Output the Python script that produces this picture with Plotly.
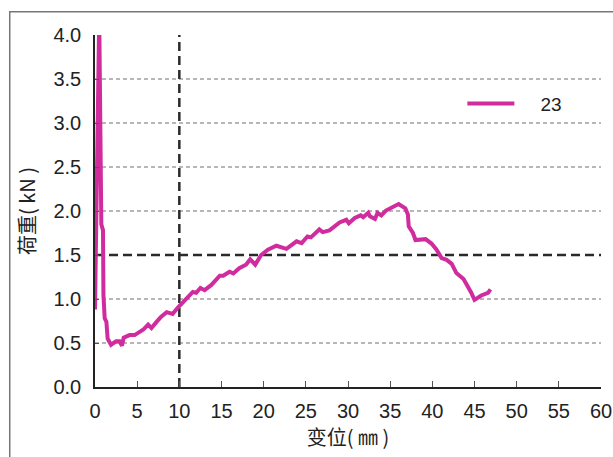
import plotly.graph_objects as go

# Series "23": displacement (mm) vs load (kN)
disp = [0.0, 0.5, 0.75, 0.95, 1.0, 1.15, 1.35, 1.5, 1.9, 2.5, 2.9, 3.2, 3.4, 4.1, 4.7, 5.1,
        5.7, 6.3, 6.7, 7.3, 7.85, 8.5, 9.2, 9.8, 10.3, 10.8, 11.6, 12.0, 12.5, 13.0, 13.8,
        14.8, 15.2, 15.95, 16.4, 17.1, 17.9, 18.4, 19.0, 19.7, 20.5, 21.5, 22.7, 23.9,
        24.5, 25.2, 25.6, 26.6, 27.0, 27.8, 29.0, 29.8, 30.1, 30.8, 31.5, 31.8, 32.4,
        32.6, 33.2, 33.5, 33.95, 34.5, 35.3, 36.0, 36.8, 37.1, 37.2, 37.7, 38.0, 39.2,
        39.9, 40.5, 41.1, 41.7, 42.3, 42.85, 43.7, 44.2, 44.6, 45.0, 45.8, 46.6, 46.9]
load = [0.88, 4.2, 1.85, 1.78, 1.05, 0.78, 0.74, 0.55, 0.48, 0.52, 0.52, 0.47, 0.56, 0.59,
        0.59, 0.61, 0.65, 0.71, 0.67, 0.74, 0.80, 0.85, 0.83, 0.90, 0.95, 1.0, 1.08, 1.07,
        1.125, 1.10, 1.16, 1.265, 1.265, 1.31, 1.29, 1.35, 1.39, 1.45, 1.39, 1.50, 1.56,
        1.605, 1.57, 1.655, 1.635, 1.71, 1.70, 1.79, 1.76, 1.78, 1.87, 1.90, 1.86, 1.92,
        1.95, 1.93, 1.98, 1.94, 1.91, 1.98, 1.95, 2.005, 2.045, 2.08, 2.03, 1.96, 1.825,
        1.75, 1.67, 1.68, 1.63, 1.56, 1.465, 1.445, 1.40, 1.295, 1.227, 1.15, 1.075, 0.99,
        1.04, 1.07, 1.11]
series_name = "23"

y_ticks = [0.0, 0.5, 1.0, 1.5, 2.0, 2.5, 3.0, 3.5, 4.0]
x_ticks = list(range(0, 61, 5))
grid_levels = [0.5, 1.0, 2.0, 2.5, 3.0, 3.5]
ref_load = 1.5
ref_disp = 10

FONT = "Liberation Sans, Arial, Noto Sans CJK SC, sans-serif"
CJK = "Noto Sans CJK SC, Liberation Sans, sans-serif"
LINE_COLOR = "#D02C9D"

fig = go.Figure()
fig.add_trace(go.Scatter(x=disp, y=load, mode="lines", name="\u00a0" * 4 + series_name,
                         line=dict(color=LINE_COLOR, width=4)))

shapes = []
for g in grid_levels:
    shapes.append(dict(type="line", xref="x", yref="y", x0=0, x1=60, y0=g, y1=g,
                       line=dict(color="#6f6f6f", width=1, dash="4px,3px"), layer="below"))
shapes.append(dict(type="line", xref="x", yref="y", x0=0, x1=60, y0=ref_load, y1=ref_load,
                   line=dict(color="#2a2a2a", width=2.5, dash="9px,5px"), layer="below"))
shapes.append(dict(type="line", xref="x", yref="y", x0=ref_disp, x1=ref_disp, y0=0, y1=4,
                   line=dict(color="#2a2a2a", width=2.5, dash="9px,5px"), layer="below"))
# outer frame
shapes.append(dict(type="rect", xref="paper", yref="paper", x0=-0.1685, x1=1.2, y0=-0.4, y1=1.066,
                   line=dict(color="#777777", width=1.5), fillcolor="rgba(0,0,0,0)", layer="above"))

fig.update_layout(
    width=613, height=457,
    margin=dict(l=95, r=12, t=35, b=70, pad=0, autoexpand=False),
    paper_bgcolor="white", plot_bgcolor="white",
    font=dict(family=FONT, size=20, color="#222222"),
    shapes=shapes,
    showlegend=True,
    legend=dict(x=0.726, y=0.805, xanchor="left", yanchor="middle",
                bgcolor="rgba(0,0,0,0)", font=dict(family=FONT, size=19, color="#222222"),
                itemwidth=47),
    xaxis=dict(range=[0, 60], tickvals=x_ticks, ticks="inside", ticklen=6, tickwidth=1,
               tickcolor="#555555", showgrid=False, zeroline=False, showline=True,
               linecolor="#222222", linewidth=1.5, ticklabelstandoff=5, automargin=False,
               title=dict(text="变位( ㎜ )", font=dict(family=CJK, size=20, color="#222222"),
                          standoff=9)),
    yaxis=dict(range=[0, 4], tickvals=y_ticks, tickformat=".1f", ticks="inside", ticklen=4,
               tickwidth=1, tickcolor="#555555", showgrid=False, zeroline=False, showline=True,
               linecolor="#222222", linewidth=1.5, ticklabelstandoff=8, automargin=False,
               title=dict(text="荷重( kN )", font=dict(family=CJK, size=20, color="#222222"),
                          standoff=12)),
)

fig.write_html("out.html", post_script="document.body.style.margin='0';",
               config={"displayModeBar": False})
